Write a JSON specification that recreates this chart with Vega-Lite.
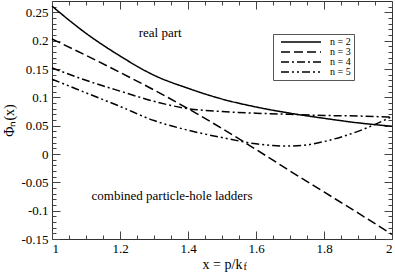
{
  "$schema": "https://vega.github.io/schema/vega-lite/v6.json",
  "width": 340,
  "height": 238,
  "autosize": "none",
  "padding": {"left": 52, "top": 1, "right": 3, "bottom": 33},
  "background": "white",
  "config": {
    "view": {"stroke": "#333", "strokeWidth": 1},
    "axis": {
      "labelFont": "Liberation Serif",
      "labelFontSize": 13,
      "labelColor": "black",
      "titleFont": "Liberation Serif",
      "titleFontSize": 14,
      "titleFontWeight": "normal",
      "titleColor": "black",
      "tickColor": "#444",
      "tickWidth": 1,
      "domain": false,
      "grid": false
    },
    "text": {"font": "Liberation Serif", "fontSize": 13, "color": "black"}
  },
  "datasets": {
    "curves": [
      {"x": 1.0, "y": 0.261, "n": "n = 2"},
      {"x": 1.1, "y": 0.213, "n": "n = 2"},
      {"x": 1.2, "y": 0.173, "n": "n = 2"},
      {"x": 1.3, "y": 0.139, "n": "n = 2"},
      {"x": 1.4, "y": 0.116, "n": "n = 2"},
      {"x": 1.5, "y": 0.097, "n": "n = 2"},
      {"x": 1.6, "y": 0.083, "n": "n = 2"},
      {"x": 1.7, "y": 0.072, "n": "n = 2"},
      {"x": 1.8, "y": 0.063, "n": "n = 2"},
      {"x": 1.9, "y": 0.055, "n": "n = 2"},
      {"x": 2.0, "y": 0.049, "n": "n = 2"},
      {"x": 1.0, "y": 0.203, "n": "n = 3"},
      {"x": 1.1, "y": 0.174, "n": "n = 3"},
      {"x": 1.2, "y": 0.144, "n": "n = 3"},
      {"x": 1.3, "y": 0.113, "n": "n = 3"},
      {"x": 1.4, "y": 0.080, "n": "n = 3"},
      {"x": 1.5, "y": 0.045, "n": "n = 3"},
      {"x": 1.6, "y": 0.008, "n": "n = 3"},
      {"x": 1.7, "y": -0.030, "n": "n = 3"},
      {"x": 1.8, "y": -0.067, "n": "n = 3"},
      {"x": 1.9, "y": -0.104, "n": "n = 3"},
      {"x": 2.0, "y": -0.142, "n": "n = 3"},
      {"x": 1.0, "y": 0.152, "n": "n = 4"},
      {"x": 1.1, "y": 0.130, "n": "n = 4"},
      {"x": 1.2, "y": 0.111, "n": "n = 4"},
      {"x": 1.3, "y": 0.093, "n": "n = 4"},
      {"x": 1.4, "y": 0.080, "n": "n = 4"},
      {"x": 1.5, "y": 0.075, "n": "n = 4"},
      {"x": 1.6, "y": 0.072, "n": "n = 4"},
      {"x": 1.7, "y": 0.070, "n": "n = 4"},
      {"x": 1.8, "y": 0.068, "n": "n = 4"},
      {"x": 1.9, "y": 0.067, "n": "n = 4"},
      {"x": 2.0, "y": 0.065, "n": "n = 4"},
      {"x": 1.0, "y": 0.132, "n": "n = 5"},
      {"x": 1.1, "y": 0.108, "n": "n = 5"},
      {"x": 1.2, "y": 0.084, "n": "n = 5"},
      {"x": 1.3, "y": 0.059, "n": "n = 5"},
      {"x": 1.4, "y": 0.042, "n": "n = 5"},
      {"x": 1.5, "y": 0.029, "n": "n = 5"},
      {"x": 1.6, "y": 0.018, "n": "n = 5"},
      {"x": 1.65, "y": 0.015, "n": "n = 5"},
      {"x": 1.7, "y": 0.014, "n": "n = 5"},
      {"x": 1.75, "y": 0.016, "n": "n = 5"},
      {"x": 1.8, "y": 0.022, "n": "n = 5"},
      {"x": 1.9, "y": 0.040, "n": "n = 5"},
      {"x": 2.0, "y": 0.066, "n": "n = 5"}
    ],
    "notes": [
      {"x": 1.318, "y": 0.2135, "t": "real part"},
      {"x": 1.353, "y": -0.074, "t": "combined particle-hole ladders"}
    ],
    "sub": [
      {"x": 1.563, "y": -0.2, "t": "f"}
    ]
  },
  "resolve": {"axis": {"x": "independent", "y": "independent"}},
  "layer": [
    {
      "data": {"name": "curves"},
      "mark": {"type": "line", "color": "black", "strokeWidth": 1.5, "interpolate": "monotone"},
      "encoding": {
        "x": {
          "field": "x", "type": "quantitative",
          "scale": {"domain": [1, 2], "nice": false, "zero": false},
          "axis": {"orient": "bottom", "values": [1, 1.2, 1.4, 1.6, 1.8, 2], "labelExpr": "'' + datum.value", "tickSize": -8, "labelPadding": 11, "title": "x = p/k", "titlePadding": 2}
        },
        "y": {
          "field": "y", "type": "quantitative",
          "scale": {"domain": [-0.15, 0.27], "nice": false, "zero": false},
          "axis": {"orient": "left", "values": [-0.15, -0.1, -0.05, 0, 0.05, 0.1, 0.15, 0.2, 0.25], "labelExpr": "'' + datum.value", "tickSize": -8, "labelPadding": 12, "title": "Φₙ(x)", "titlePadding": 4}
        },
        "strokeDash": {
          "field": "n", "type": "nominal",
          "scale": {"domain": ["n = 2", "n = 3", "n = 4", "n = 5"], "range": [[1, 0], [9, 4], [8, 3, 2, 3], [8, 3, 2, 3, 2, 3]]},
          "legend": {
            "orient": "none", "legendX": 221, "legendY": 33, "title": null,
            "symbolType": "M0,0H40", "symbolSize": 4, "symbolStrokeColor": "black", "symbolStrokeWidth": 1.5,
            "labelFont": "Liberation Serif", "labelFontSize": 10, "labelColor": "black", "labelOffset": 44,
            "strokeColor": "#555", "fillColor": "white", "padding": 3, "rowPadding": 0
          }
        }
      }
    },
    {
      "mark": {"type": "rule", "color": "#444", "strokeWidth": 1},
      "encoding": {
        "y": {
          "datum": 0, "type": "quantitative",
          "scale": {"domain": [-0.15, 0.27], "nice": false, "zero": false},
          "axis": {"orient": "left", "values": [-0.14, -0.13, -0.12, -0.11, -0.09, -0.08, -0.07, -0.06, -0.04, -0.03, -0.02, -0.01, 0.01, 0.02, 0.03, 0.04, 0.06, 0.07, 0.08, 0.09, 0.11, 0.12, 0.13, 0.14, 0.16, 0.17, 0.18, 0.19, 0.21, 0.22, 0.23, 0.24, 0.26], "labels": false, "tickSize": -4, "title": null}
        }
      }
    },
    {
      "data": {"name": "notes"},
      "mark": {"type": "text", "align": "center", "baseline": "middle"},
      "encoding": {
        "x": {
          "field": "x", "type": "quantitative",
          "scale": {"domain": [1, 2], "nice": false, "zero": false},
          "axis": {"orient": "top", "values": [1, 1.2, 1.4, 1.6, 1.8, 2], "labels": false, "tickSize": -8, "title": null}
        },
        "y": {
          "field": "y", "type": "quantitative",
          "scale": {"domain": [-0.15, 0.27], "nice": false, "zero": false},
          "axis": {"orient": "right", "values": [-0.15, -0.1, -0.05, 0, 0.05, 0.1, 0.15, 0.2, 0.25], "labels": false, "tickSize": -8, "title": null}
        },
        "text": {"field": "t"}
      }
    },
    {
      "data": {"name": "sub"},
      "mark": {"type": "text", "align": "left", "baseline": "middle", "fontSize": 10},
      "encoding": {
        "x": {
          "field": "x", "type": "quantitative",
          "scale": {"domain": [1, 2], "nice": false, "zero": false},
          "axis": {"orient": "bottom", "values": [1.05, 1.1, 1.15, 1.25, 1.3, 1.35, 1.45, 1.5, 1.55, 1.65, 1.7, 1.75, 1.85, 1.9, 1.95], "labels": false, "tickSize": -4, "title": null}
        },
        "y": {
          "field": "y", "type": "quantitative",
          "scale": {"domain": [-0.15, 0.27], "nice": false, "zero": false},
          "axis": {"orient": "right", "values": [-0.14, -0.13, -0.12, -0.11, -0.09, -0.08, -0.07, -0.06, -0.04, -0.03, -0.02, -0.01, 0.01, 0.02, 0.03, 0.04, 0.06, 0.07, 0.08, 0.09, 0.11, 0.12, 0.13, 0.14, 0.16, 0.17, 0.18, 0.19, 0.21, 0.22, 0.23, 0.24, 0.26], "labels": false, "tickSize": -4, "title": null}
        },
        "text": {"field": "t"}
      }
    },
    {
      "mark": {"type": "rule", "strokeOpacity": 0},
      "encoding": {
        "x": {
          "datum": 1, "type": "quantitative",
          "scale": {"domain": [1, 2], "nice": false, "zero": false},
          "axis": {"orient": "top", "values": [1.05, 1.1, 1.15, 1.25, 1.3, 1.35, 1.45, 1.5, 1.55, 1.65, 1.7, 1.75, 1.85, 1.9, 1.95], "labels": false, "tickSize": -4, "title": null}
        }
      }
    }
  ]
}
